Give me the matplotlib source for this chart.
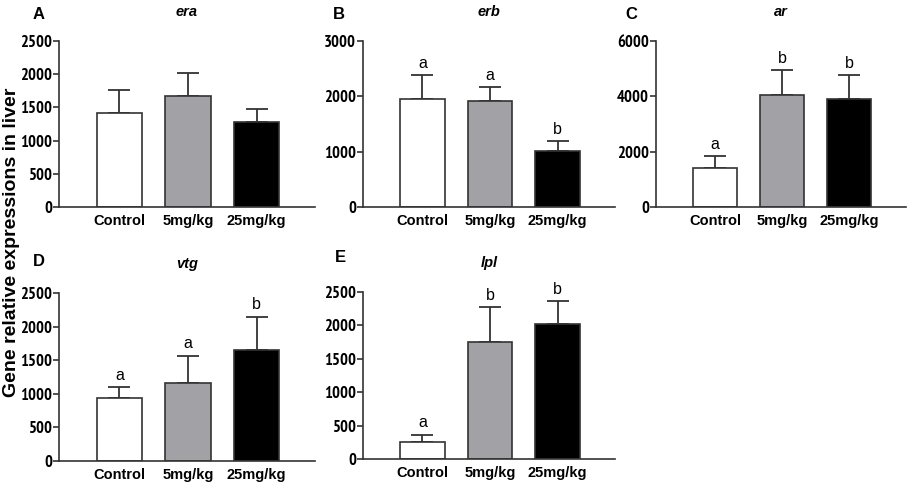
import matplotlib
matplotlib.use("Agg")
import matplotlib.pyplot as plt

groups = ["Control", "5mg/kg", "25mg/kg"]
barColors = ["white", "#a2a2a6", "black"]

genes = ["era", "erb", "ar", "vtg", "lpl"]
panelLetters = ["A", "B", "C", "D", "E"]

eraMean = [1410, 1675, 1285]
eraErr = [350, 345, 185]
erbMean = [1945, 1915, 1020]
erbErr = [445, 255, 170]
arMean = [1400, 4050, 3915]
arErr = [455, 900, 855]
vtgMean = [945, 1165, 1655]
vtgErr = [160, 405, 495]
lplMean = [250, 1750, 2020]
lplErr = [115, 520, 345]

means = [eraMean, erbMean, arMean, vtgMean, lplMean]
errs = [eraErr, erbErr, arErr, vtgErr, lplErr]
sigLetters = [None, ["a", "a", "b"], ["a", "b", "b"], ["a", "a", "b"], ["a", "b", "b"]]
yMax = [2500, 3000, 6000, 2500, 2500]
yStep = [500, 1000, 2000, 500, 500]

# axes boxes in figure fractions (left, bottom, width, height)
boxes = [
    (0.0649, 0.5723, 0.2816, 0.343),
    (0.3993, 0.5723, 0.2772, 0.343),
    (0.7217, 0.5723, 0.2750, 0.343),
    (0.0649, 0.0475, 0.2816, 0.347),
    (0.3993, 0.0517, 0.2772, 0.345),
]
letterPos = [(33, 7), (333, 7), (625, 7), (33, 254), (335, 250)]

plt.rcParams["font.family"] = ["Liberation Sans", "DejaVu Sans"]
narrow = ["PT Sans Narrow", "Liberation Sans"]

edge = "#333333"
fig = plt.figure(figsize=(9.09, 4.84), dpi=100)

for i in range(5):
    ax = fig.add_axes(boxes[i])
    xs = list(range(3))
    ax.bar(xs, means[i], width=0.66, color=barColors, edgecolor=edge, linewidth=1.2, zorder=2)
    ax.errorbar(xs, means[i], yerr=[[0, 0, 0], errs[i]], fmt="none", ecolor=edge,
                elinewidth=1.3, capsize=8, capthick=1.3, zorder=1)
    if sigLetters[i]:
        for x, m, e, s in zip(xs, means[i], errs[i], sigLetters[i]):
            ax.annotate(s, (x, m + e), xytext=(0, 3), textcoords="offset points",
                        ha="center", va="bottom", fontsize=11.5)
    ax.set_xlim(-0.88, 2.85)
    ax.set_ylim(0, yMax[i])
    ax.set_yticks(range(0, yMax[i] + 1, yStep[i]))
    ax.set_xticks(xs)
    ax.set_xticklabels(groups, fontsize=10.5, fontweight="bold")
    for lab in ax.get_yticklabels():
        lab.set_family(narrow)
        lab.set_fontweight("bold")
        lab.set_fontsize(12)
    ax.tick_params(axis="x", length=0, pad=5)
    ax.tick_params(axis="y", length=4, width=1.2, color=edge, pad=1)
    for side in ["top", "right"]:
        ax.spines[side].set_visible(False)
    for side in ["left", "bottom"]:
        ax.spines[side].set_color(edge)
        ax.spines[side].set_linewidth(1.2)
    ax.set_title(genes[i], fontsize=10.5, fontweight="bold", style="italic", pad=18)
    lx, ly = letterPos[i]
    fig.text(lx / 909, 1 - ly / 484, panelLetters[i], fontsize=12,
             fontweight="bold", ha="left", va="top")

fig.text(0.013, 0.5, "Gene relative expressions in liver", rotation=90,
         fontsize=14, fontweight="bold", ha="center", va="center")

fig.savefig("out.png", dpi=100)
